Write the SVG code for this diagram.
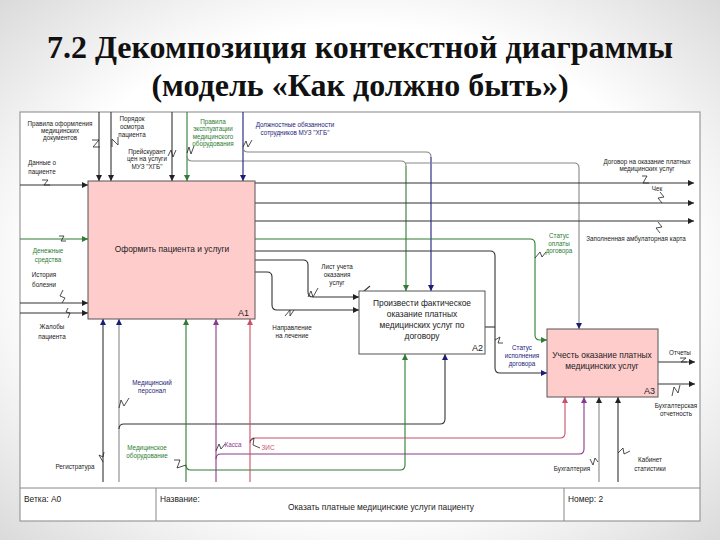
<svg xmlns="http://www.w3.org/2000/svg" width="720" height="540" viewBox="0 0 720 540">
<defs>
<radialGradient id="bg" cx="50%" cy="50%" r="75%">
<stop offset="0.6" stop-color="#ffffff"/>
<stop offset="1" stop-color="#d4d4d4"/>
</radialGradient>
<marker id="ak" viewBox="0 0 10 10" refX="10" refY="5" markerWidth="8" markerHeight="6" orient="auto" markerUnits="userSpaceOnUse"><path d="M0,0L10,5L0,10z" fill="#222"/></marker>
<marker id="ag" viewBox="0 0 10 10" refX="10" refY="5" markerWidth="8" markerHeight="6" orient="auto" markerUnits="userSpaceOnUse"><path d="M0,0L10,5L0,10z" fill="#2e7d32"/></marker>
<marker id="an" viewBox="0 0 10 10" refX="10" refY="5" markerWidth="8" markerHeight="6" orient="auto" markerUnits="userSpaceOnUse"><path d="M0,0L10,5L0,10z" fill="#1c1c7a"/></marker>
<marker id="ap" viewBox="0 0 10 10" refX="10" refY="5" markerWidth="8" markerHeight="6" orient="auto" markerUnits="userSpaceOnUse"><path d="M0,0L10,5L0,10z" fill="#8a3a8a"/></marker>
<marker id="ar" viewBox="0 0 10 10" refX="10" refY="5" markerWidth="8" markerHeight="6" orient="auto" markerUnits="userSpaceOnUse"><path d="M0,0L10,5L0,10z" fill="#c85068"/></marker>
</defs>
<style>
.t{font-family:"Liberation Sans",Arial,sans-serif;font-size:6.3px;fill:#222;text-anchor:middle}
.tg{fill:#2e7d32}
.tn{fill:#1c1c7a}
.tp{fill:#8a3a8a}
.tr{fill:#c85068}
.bx{font-family:"Liberation Sans",Arial,sans-serif;font-size:8.4px;fill:#222;text-anchor:middle}
.num{font-family:"Liberation Sans",Arial,sans-serif;font-size:9px;fill:#222}
.ft{font-family:"Liberation Sans",Arial,sans-serif;font-size:8.4px;fill:#222}
.ttl{font-family:"Liberation Serif","Times New Roman",serif;font-size:32px;font-weight:bold;fill:#111;text-anchor:middle}
.c{fill:none;stroke:#333;stroke-width:1.1}
.cg{fill:none;stroke:#2e7d32;stroke-width:1.1}
.cn{fill:none;stroke:#1c1c7a;stroke-width:1.1}
.cgr{fill:none;stroke:#888;stroke-width:1.1}
.cp{fill:none;stroke:#8a3a8a;stroke-width:1.1}
.cr{fill:none;stroke:#c85068;stroke-width:1.1}
.sq{fill:none;stroke:#222;stroke-width:0.8}
</style>
<rect width="720" height="540" fill="url(#bg)"/>
<text class="ttl" x="360" y="58">7.2 Декомпозиция контекстной диаграммы</text>
<text class="ttl" x="360" y="96">(модель «Как должно быть»)</text>
<rect x="20" y="112" width="680" height="409" fill="#fff" stroke="#999" stroke-width="1.2"/>
<g id="connectors">
<path class="c" d="M99,112V181" marker-end="url(#ak)"/>
<path class="c" d="M111,112V181" marker-end="url(#ak)"/>
<path class="c" d="M172,112V181" marker-end="url(#ak)"/>
<path class="cg" d="M187,112V181" marker-end="url(#ag)"/>
<path class="cgr" d="M187,156Q187,161 192,161H401Q406,161 406,166"/>
<path class="cg" d="M406,166V291" marker-end="url(#ag)"/>
<path class="cn" d="M243,112V181" marker-end="url(#an)"/>
<path class="cgr" d="M243,147Q243,152 248,152H426Q431,152 431,157"/>
<path class="cn" d="M431,157V291" marker-end="url(#an)"/>
<path class="cgr" d="M406,163H574Q579,163 579,168V329" marker-end="url(#an)"/>
<path class="c" d="M255,183H694" marker-end="url(#ak)"/>
<path class="c" d="M255,203H694" marker-end="url(#ak)"/>
<path class="c" d="M255,221H694" marker-end="url(#ak)"/>
<path class="cg" d="M255,239H530Q535,239 535,244V335Q535,340 540,340H547" marker-end="url(#ag)"/>
<path class="c" d="M255,251H490Q495,251 495,256V368Q495,373 500,373H547" marker-end="url(#an)"/>
<path class="c" d="M485,327H495"/>
<path class="c" d="M255,260H303Q308,260 308,265V292Q308,297 313,297H359" marker-end="url(#ak)"/>
<path class="c" d="M255,272H267Q272,272 272,277V305Q272,310 277,310H359" marker-end="url(#ak)"/>
<path class="c" d="M363,292L370,286"/>
<path class="c" d="M20,185H88" marker-end="url(#ak)"/>
<path class="cg" d="M20,239H88" marker-end="url(#ag)"/>
<path class="c" d="M20,303H88" marker-end="url(#ak)"/>
<path class="c" d="M20,313H88" marker-end="url(#ak)"/>
<path class="c" d="M103,482V319" marker-end="url(#an)"/>
<path class="cgr" d="M119,482V319" marker-end="url(#an)"/>
<path class="c" d="M119,429Q119,424 124,424H440Q445,424 445,419V354" marker-end="url(#an)"/>
<path class="cg" d="M186,482V319" marker-end="url(#ag)"/>
<path class="cg" d="M186,465Q186,470 191,470H400Q405,470 405,465V354" marker-end="url(#ag)"/>
<path class="cp" d="M216,482V319" marker-end="url(#ap)"/>
<path class="cp" d="M216,459Q216,454 221,454H579Q584,454 584,449V397" marker-end="url(#ap)"/>
<path class="cr" d="M250,482V319" marker-end="url(#ar)"/>
<path class="cr" d="M250,443Q250,438 255,438H560Q565,438 565,433V397" marker-end="url(#ar)"/>
<path class="cgr" d="M599,482V397" marker-end="url(#ak)"/>
<path class="c" d="M618,482V397" marker-end="url(#ak)"/>
<path class="c" d="M658,362H695" marker-end="url(#ak)"/>
<path class="c" d="M658,384H695" marker-end="url(#ak)"/>
<path class="sq" d="M92,140L99,140L93,147L100,147"/>
<path class="sq" d="M112,147L112,139L118,145L118,137"/>
<path class="sq" d="M168,156L171,150L173,157L176,150"/>
<path class="sq" d="M187,153L189,147L191,154L194,146"/>
<path class="sq" d="M243,147L246,141L248,147L252,140"/>
<path class="sq" d="M42,180L48,180L44,185L50,185"/>
<path class="sq" d="M59,236L64,236L61,241L66,241"/>
<path class="sq" d="M63,290L60,296L65,298L62,303"/>
<path class="sq" d="M68,308L66,312L70,313L68,318"/>
<path class="sq" d="M642,176L647,176L643,183L649,183"/>
<path class="sq" d="M660,192L664,197L658,198L662,203"/>
<path class="sq" d="M658,222L662,227L656,228L660,233"/>
<path class="sq" d="M535,258L540,252L542,257L546,252"/>
<path class="sq" d="M308,297L311,291L313,297L318,288"/>
<path class="sq" d="M285,316L290,310L290,316L294,310"/>
<path class="sq" d="M495,340L500,337L498,343L503,343"/>
<path class="sq" d="M119,408L121,400L124,406L129,398"/>
<path class="sq" d="M103,462L99,455L103,457L104,452"/>
<path class="sq" d="M174,460L180,460L177,468L186,465"/>
<path class="sq" d="M216,451L219,444L221,449L225,444"/>
<path class="sq" d="M250,441L254,438L253,445L260,448"/>
<path class="sq" d="M590,459L593,465L595,458L598,462"/>
<path class="sq" d="M618,453L623,448L624,454L630,451"/>
<path class="sq" d="M680,358L686,358L681,362L687,362"/>
<path class="sq" d="M672,396L674,387L678,393L680,385"/>
</g>
<g id="A1">
<rect x="88" y="181" width="167" height="138" fill="#ffcccc" stroke="#555" stroke-width="1"/>
<text class="bx" x="172" y="252">Оформить пациента и услуги</text>
<text class="num" x="238" y="316">A1</text>
</g>
<g id="A2">
<rect x="359" y="291" width="126" height="63" fill="#fff" stroke="#555" stroke-width="1"/>
<text class="bx" x="422" y="306">Произвести фактическое</text>
<text class="bx" x="422" y="317">оказание платных</text>
<text class="bx" x="422" y="328">медицинских услуг по</text>
<text class="bx" x="422" y="339">договору</text>
<text class="num" x="472" y="351">A2</text>
</g>
<g id="A3">
<rect x="547" y="329" width="111" height="68" fill="#ffcccc" stroke="#555" stroke-width="1"/>
<text class="bx" x="602" y="358">Учесть оказание платных</text>
<text class="bx" x="602" y="369">медицинских услуг</text>
<text class="num" x="644" y="394">A3</text>
</g>
<g id="labels">
<text class="t" x="60" y="126">Правила оформления</text>
<text class="t" x="60" y="133">медицинских</text>
<text class="t" x="60" y="140">документов</text>
<text class="t" x="132" y="121">Порядок</text>
<text class="t" x="132" y="129">осмотра</text>
<text class="t" x="132" y="137">пациента</text>
<text class="t" x="147" y="154">Прейскурант</text>
<text class="t" x="147" y="161">цен на услуги</text>
<text class="t" x="147" y="169">МУЗ "ХГБ"</text>
<text class="t tg" x="213" y="124">Правила</text>
<text class="t tg" x="213" y="131">эксплуатации</text>
<text class="t tg" x="213" y="139">медицинского</text>
<text class="t tg" x="213" y="146">оборудования</text>
<text class="t tn" x="295" y="127" font-size="6.8">Должностные обязанности</text>
<text class="t tn" x="295" y="135" font-size="6.8">сотрудников МУЗ "ХГБ"</text>
<text class="t" x="42" y="165">Данные о</text>
<text class="t" x="42" y="174">пациенте</text>
<text class="t tg" x="48" y="253">Денежные</text>
<text class="t tg" x="48" y="262">средства</text>
<text class="t" x="44" y="277">История</text>
<text class="t" x="44" y="287">болезни</text>
<text class="t" x="52" y="329">Жалобы</text>
<text class="t" x="52" y="339">пациента</text>
<text class="t" x="647" y="164">Договор на оказание платных</text>
<text class="t" x="647" y="171">медицинских услуг</text>
<text class="t" x="657" y="191">Чек</text>
<text class="t" x="636" y="241">Заполненная амбулаторная карта</text>
<text class="t tg" x="559" y="238">Статус</text>
<text class="t tg" x="559" y="246">оплаты</text>
<text class="t tg" x="559" y="253">договора</text>
<text class="t" x="337" y="269">Лист учета</text>
<text class="t" x="337" y="277">оказания</text>
<text class="t" x="337" y="285">услуг</text>
<text class="t" x="292" y="330">Направление</text>
<text class="t" x="292" y="338">на лечение</text>
<text class="t tn" x="522" y="350">Статус</text>
<text class="t tn" x="522" y="358">исполнения</text>
<text class="t tn" x="522" y="366">договора</text>
<text class="t" x="680" y="355">Отчеты</text>
<text class="t" x="676" y="408">Бухгалтерская</text>
<text class="t" x="676" y="416">отчетность</text>
<text class="t tn" x="152" y="385">Медицинский</text>
<text class="t tn" x="152" y="393">персонал</text>
<text class="t tg" x="147" y="450">Медицинское</text>
<text class="t tg" x="147" y="458">оборудование</text>
<text class="t tp" x="233" y="447">Касса</text>
<text class="t tr" x="268" y="450">ЗИС</text>
<text class="t" x="75" y="469">Регистратура</text>
<text class="t" x="572" y="471">Бухгалтерия</text>
<text class="t" x="650" y="462">Кабинет</text>
<text class="t" x="650" y="471">статистики</text>
</g>
<g id="footer">
<path d="M20,488H700M156,488V521M564,488V521" fill="none" stroke="#888" stroke-width="1"/>
<text class="ft" x="24" y="502">Ветка: A0</text>
<text class="ft" x="160" y="502">Название:</text>
<text class="ft" x="381" y="510" text-anchor="middle">Оказать платные медицинские услуги пациенту</text>
<text class="ft" x="568" y="502">Номер: 2</text>
</g>
</svg>
